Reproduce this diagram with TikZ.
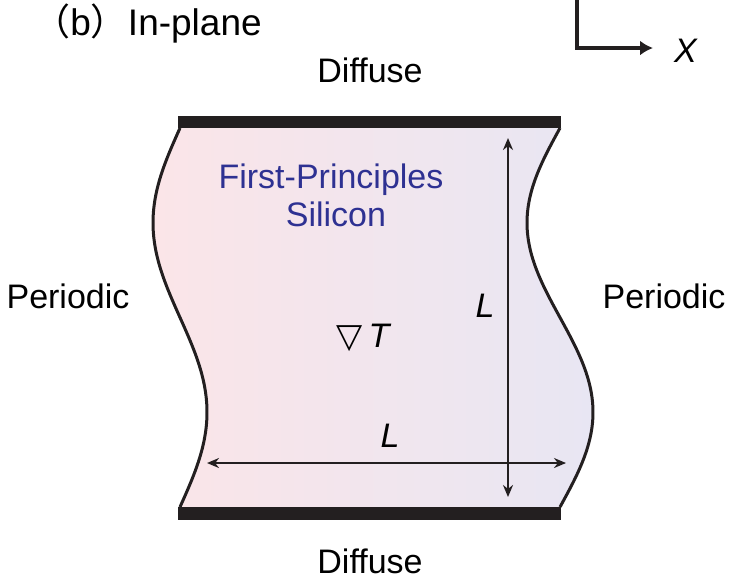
\documentclass[tikz,border=0pt]{standalone}
\usepackage{fontspec}
\setmainfont{Liberation Sans}
\newfontfamily\cjk{Noto Sans CJK SC}
\newfontfamily\symfont{DejaVu Sans}
\usetikzlibrary{arrows.meta}
\definecolor{barblack}{RGB}{35,31,32}
\definecolor{siblue}{RGB}{46,49,146}
\definecolor{pinkfill}{RGB}{251,229,232}
\definecolor{lilacfill}{RGB}{232,230,243}

\begin{document}
\begin{tikzpicture}[x=0.5pt,y=-0.5pt,
  lbl/.style={font=\fontsize{17}{20}\selectfont,inner sep=0pt,anchor=base},
  edge/.style={line width=1.5pt,barblack},
  dim/.style={{Stealth[length=6pt,width=5pt]}-{Stealth[length=6pt,width=5pt]},line width=1.1pt,barblack}]
\useasboundingbox (0,0) rectangle (732,586);

% slab with periodic wavy sides
\shade[left color=pinkfill,right color=lilacfill]
  plot[domain=128:507,samples=60,smooth] ({180-27*sin((\x-128)/379*360)},\x)
  -- plot[domain=507:128,samples=60,smooth] ({560-33*sin((\x-128)/379*360)},\x) -- cycle;
\draw[edge] plot[domain=128:507,samples=60,smooth] ({180-27*sin((\x-128)/379*360)},\x);
\draw[edge] plot[domain=128:507,samples=60,smooth] ({560-33*sin((\x-128)/379*360)},\x);

% diffuse walls
\fill[barblack] (178,116) rectangle (561,128);
\fill[barblack] (178,507) rectangle (561,520);

% labels
\node[lbl,anchor=base west,font=\fontsize{18.5}{21}\selectfont] (title) at (33,35) {{\cjk （}b{\cjk ）}In-plane};
\node[lbl] (difftop) at (370,82) {Diffuse};
\node[lbl] (diffbot) at (370,573) {Diffuse};
\node[lbl] (perleft) at (68,308) {Periodic};
\node[lbl] (perright) at (664,308) {Periodic};
\node[lbl,text=siblue] (mat1) at (331,188) {First-Principles};
\node[lbl,text=siblue] (mat2) at (336,226) {Silicon};
\node[lbl] (grad) at (364,347) {{\symfont ▽}\,\textit{T}};

% dimension arrows
\coordinate (vtop) at (508,138);
\coordinate (vbot) at (508,497);
\coordinate (hleft) at (207,463);
\coordinate (hright) at (566,463);
\draw[dim] (vtop) -- (vbot);
\draw[dim] (hleft) -- (hright);
\node[lbl] (lv) at (485,317) {\textit{L}};
\node[lbl] (lh) at (390,447) {\textit{L}};

% axis
\coordinate (ax0) at (577,0);
\coordinate (axc) at (577,48);
\coordinate (axx) at (653,48);
\draw[line width=1.6pt,barblack,-{Latex[length=6.5pt,width=7.5pt]}] (ax0) -- (axc) -- (axx);
\node[lbl] (xlbl) at (686,62) {\textit{X}};
\end{tikzpicture}
\end{document}
